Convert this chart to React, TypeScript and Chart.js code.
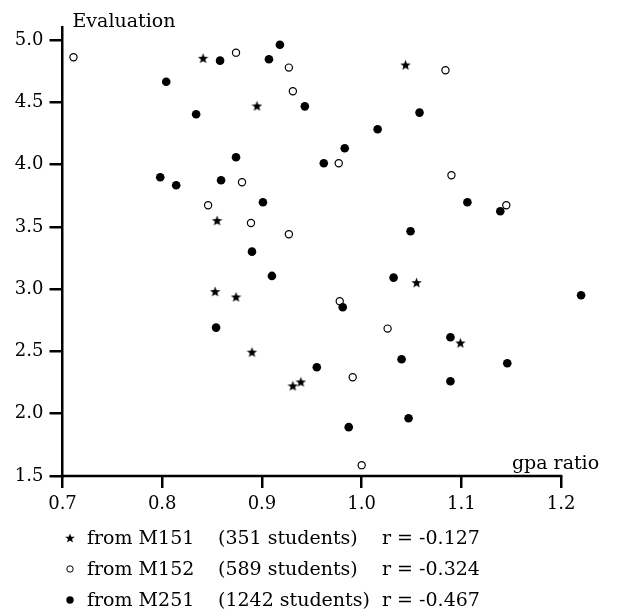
import React, { useEffect, useRef } from "react";
import { Chart, registerables } from "chart.js";

Chart.register(...registerables);

// ---- data ----
const m151X = [0.841, 0.895, 1.044, 0.855, 0.853, 0.874, 0.890, 0.931, 0.939, 1.055, 1.099];
const m151Y = [4.853, 4.470, 4.799, 3.550, 2.980, 2.937, 2.494, 2.223, 2.255, 3.052, 2.568];

const m152X = [0.711, 0.874, 0.927, 0.931, 0.880, 0.846, 0.889, 0.927, 1.084, 0.977, 1.090, 1.145, 0.978, 1.026, 0.991, 1.000];
const m152Y = [4.861, 4.898, 4.778, 4.588, 3.858, 3.673, 3.531, 3.441, 4.757, 4.010, 3.914, 3.673, 2.903, 2.683, 2.293, 1.587];

const m251X = [0.858, 0.918, 0.907, 0.804, 0.943, 0.834, 0.874, 0.798, 0.814, 0.859, 0.901, 1.058, 1.016, 0.983, 0.962, 1.106, 1.139, 1.049, 0.890, 0.910, 0.854, 1.032, 0.981, 1.220, 1.089, 1.040, 0.955, 1.146, 1.089, 0.987, 1.047];
const m251Y = [4.834, 4.962, 4.845, 4.665, 4.467, 4.404, 4.059, 3.898, 3.834, 3.874, 3.697, 4.417, 4.283, 4.131, 4.010, 3.697, 3.625, 3.465, 3.301, 3.106, 2.691, 3.092, 2.855, 2.951, 2.614, 2.437, 2.373, 2.405, 2.261, 1.892, 1.964];

const xTicks = [0.7, 0.8, 0.9, 1.0, 1.1, 1.2];
const yTicks = [1.5, 2.0, 2.5, 3.0, 3.5, 4.0, 4.5, 5.0];

const xTitle = "gpa ratio";
const yTitle = "Evaluation";

const seriesNames = ["from M151", "from M152", "from M251"];
const studentCounts = ["(351 students)", "(589 students)", "(1242 students)"];
const rValues = ["r = -0.127", "r = -0.324", "r = -0.467"];
const markerKinds = ["star", "circle", "dot"];

const FONT = '"DejaVu Serif", serif';

function makeStar(size: number): HTMLCanvasElement {
  const c = document.createElement("canvas");
  c.width = size;
  c.height = size;
  const ctx = c.getContext("2d")!;
  const cx = size / 2;
  const cy = size / 2 + 0.4;
  const R = size / 2;
  const r = R * 0.42;
  ctx.beginPath();
  for (let i = 0; i < 10; i++) {
    const ang = -Math.PI / 2 + (i * Math.PI) / 5;
    const rad = i % 2 === 0 ? R : r;
    const px = cx + rad * Math.cos(ang);
    const py = cy + rad * Math.sin(ang);
    if (i === 0) ctx.moveTo(px, py);
    else ctx.lineTo(px, py);
  }
  ctx.closePath();
  ctx.fillStyle = "#000";
  ctx.fill();
  return c;
}

function toPoints(xs: number[], ys: number[]) {
  return xs.map((x, i) => ({ x, y: ys[i] }));
}

const axisDecor = {
  id: "axisDecor",
  beforeDatasetsDraw(chart: any) {
    const { ctx, scales } = chart;
    const x = scales.x;
    const y = scales.y;
    const yb = y.getPixelForValue(yTicks[0]);
    ctx.save();
    ctx.strokeStyle = "#000";
    ctx.lineWidth = 2.5;
    ctx.beginPath();
    ctx.moveTo(x.getPixelForValue(xTicks[0]) - 1.25, yb);
    ctx.lineTo(x.getPixelForValue(xTicks[xTicks.length - 1]) + 1.25, yb);
    ctx.stroke();
    ctx.restore();
  },
  afterDraw(chart: any) {
    const { ctx, scales, chartArea } = chart;
    const x = scales.x;
    const y = scales.y;
    ctx.save();
    ctx.fillStyle = "#000";
    ctx.font = `19px ${FONT}`;
    ctx.textBaseline = "alphabetic";
    ctx.textAlign = "left";
    ctx.fillText(yTitle, chartArea.left + 10, chartArea.top - 1);
    ctx.textAlign = "right";
    ctx.fillText(xTitle, x.getPixelForValue(xTicks[xTicks.length - 1]) + 38, y.getPixelForValue(yTicks[0]) - 7);
    ctx.restore();
  },
};

function LegendMarker({ kind }: { kind: string }) {
  if (kind === "star") {
    const pts: string[] = [];
    for (let i = 0; i < 10; i++) {
      const ang = -Math.PI / 2 + (i * Math.PI) / 5;
      const rad = i % 2 === 0 ? 5 : 2.1;
      pts.push(`${(5 + rad * Math.cos(ang)).toFixed(2)},${(5.4 + rad * Math.sin(ang)).toFixed(2)}`);
    }
    return (
      <svg width={10} height={10} style={{ display: "block" }}>
        <polygon points={pts.join(" ")} fill="#000" />
      </svg>
    );
  }
  if (kind === "circle") {
    return (
      <svg width={10} height={10} style={{ display: "block" }}>
        <circle cx={5} cy={5} r={3.2} fill="none" stroke="#000" strokeWidth={1} />
      </svg>
    );
  }
  return (
    <svg width={10} height={10} style={{ display: "block" }}>
      <circle cx={5} cy={5} r={3.7} fill="#000" />
    </svg>
  );
}

export default function App() {
  const canvasRef = useRef<HTMLCanvasElement | null>(null);

  useEffect(() => {
    const canvas = canvasRef.current;
    if (!canvas) return;
    const star = makeStar(11);
    const tickFont = { family: FONT, size: 18 };
    const fmt = (v: any) => Number(v).toFixed(1);

    const chart = new Chart(canvas, {
      type: "scatter",
      data: {
        datasets: [
          {
            label: seriesNames[2],
            data: toPoints(m251X, m251Y),
            pointStyle: "circle",
            pointRadius: 4.3,
            pointBorderWidth: 0,
            backgroundColor: "#000",
            borderColor: "#000",
            clip: false,
          } as any,
          {
            label: seriesNames[0],
            data: toPoints(m151X, m151Y),
            pointStyle: star,
            pointRadius: 5,
            backgroundColor: "#000",
            borderColor: "#000",
            clip: false,
          } as any,
          {
            label: seriesNames[1],
            data: toPoints(m152X, m152Y),
            pointStyle: "circle",
            pointRadius: 3.6,
            pointBorderWidth: 1.2,
            backgroundColor: "rgba(255,255,255,0)",
            borderColor: "#000",
            clip: false,
          } as any,
        ],
      },
      options: {
        responsive: false,
        animation: false,
        devicePixelRatio: 1,
        layout: { padding: { left: 0, top: 27.5, right: 5.6, bottom: 0 } },
        plugins: {
          legend: { display: false },
          tooltip: { enabled: false },
        },
        events: [],
        scales: {
          x: {
            type: "linear",
            min: 0.7,
            max: 1.25,
            afterBuildTicks: (s: any) => {
              s.ticks = xTicks.map((v) => ({ value: v }));
            },
            afterFit: (s: any) => {
              s.height = 133;
            },
            grid: {
              display: true,
              drawOnChartArea: false,
              drawTicks: true,
              tickLength: 12,
              tickWidth: 2.5,
              tickColor: "#000",
              color: "#000",
              lineWidth: 2.5,
            },
            border: { display: false },
            ticks: {
              font: tickFont,
              color: "#000",
              padding: 6,
              maxRotation: 0,
              autoSkip: false,
              callback: fmt,
            },
          },
          y: {
            type: "linear",
            min: 1.5,
            max: 5.1,
            afterBuildTicks: (s: any) => {
              s.ticks = yTicks.map((v) => ({ value: v }));
            },
            afterFit: (s: any) => {
              s.width = 62.5;
            },
            grid: {
              display: true,
              drawOnChartArea: false,
              drawTicks: true,
              tickLength: 13,
              tickWidth: 2.5,
              tickColor: "#000",
              color: "#000",
              lineWidth: 2.5,
            },
            border: { display: true, color: "#000", width: 2.5 },
            ticks: {
              font: tickFont,
              color: "#000",
              padding: 6,
              autoSkip: false,
              callback: fmt,
            },
          },
        },
      } as any,
      plugins: [axisDecor as any],
    });

    return () => {
      chart.destroy();
    };
  }, []);

  return (
    <div
      style={{
        position: "absolute",
        left: 0,
        top: 0,
        width: 617,
        height: 609,
        background: "#fff",
        overflow: "hidden",
      }}
    >
      <canvas ref={canvasRef} width={617} height={609} style={{ display: "block" }} />
      <div
        style={{
          position: "absolute",
          left: 0,
          top: 522,
          width: 617,
          fontFamily: FONT,
          fontSize: 19,
          lineHeight: "31px",
          color: "#000",
        }}
      >
        {seriesNames.map((name, i) => (
          <div key={name} style={{ position: "relative", height: 31, whiteSpace: "nowrap" }}>
            <div style={{ position: "absolute", left: 65, top: 11 }}>
              <LegendMarker kind={markerKinds[i]} />
            </div>
            <span style={{ position: "absolute", left: 87, top: 0 }}>{name}</span>
            <span style={{ position: "absolute", left: 218, top: 0 }}>{studentCounts[i]}</span>
            <span style={{ position: "absolute", left: 382, top: 0 }}>{rValues[i]}</span>
          </div>
        ))}
      </div>
    </div>
  );
}
